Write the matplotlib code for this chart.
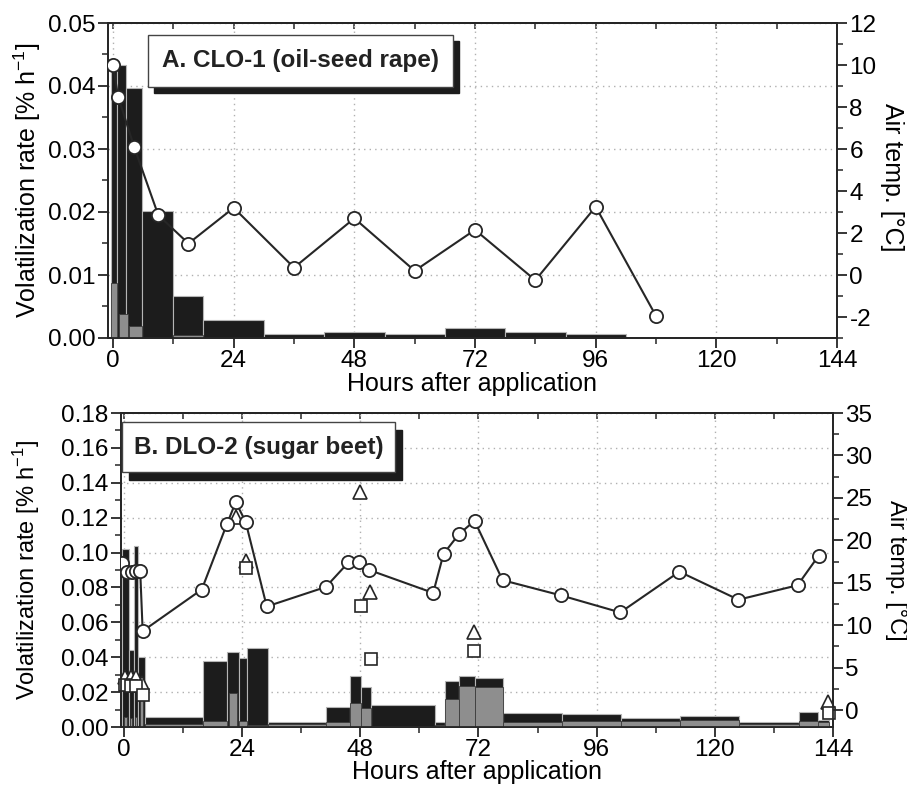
import numpy as np
import matplotlib
matplotlib.use("Agg")
import matplotlib.pyplot as plt
from matplotlib.patches import Rectangle
from matplotlib.ticker import MultipleLocator, FormatStrFormatter

plt.rcParams['font.family'] = ['Liberation Sans', 'DejaVu Sans']
plt.rcParams['axes.unicode_minus'] = False

# --- Panel A: CLO-1 (oil-seed rape) ---
a_dark_edges = [-0.5, 0.7, 2.6, 5.8, 11.9, 17.9, 30, 42, 54, 66, 78, 90, 102]
a_dark_rate = [0.0433, 0.0433, 0.0397, 0.0202, 0.0067, 0.0029, 0.0006,
               0.0009, 0.0006, 0.0016, 0.0010, 0.0006]
a_gray_left = [-0.4, 1.2, 3.2, 11.9]
a_gray_width = [1.1, 1.7, 2.5, 6.0]
a_gray_rate = [0.0087, 0.0038, 0.0019, 0.0004]
a_temp_hours = [0, 1, 4.2, 9, 15, 24, 36, 48, 60, 72, 84, 96, 108]
a_temp = [10.0, 8.5, 6.1, 2.85, 1.5, 3.2, 0.35, 2.7, 0.2, 2.15, -0.25, 3.25, -1.95]

# --- Panel B: DLO-2 (sugar beet) ---
b_dark_edges = [-0.3, 1.1, 2.0, 2.9, 4.2, 16.1, 21, 23.4, 25, 29.2, 41.1, 45.9,
                48.1, 50.2, 63.1, 65.1, 68.1, 71.2, 77, 89, 101, 113, 125, 137,
                141, 143.2]
b_dark_rate = [0.102, 0.044, 0.104, 0.040, 0.0059, 0.0378, 0.0428, 0.0394,
               0.0451, 0.003, 0.0113, 0.0292, 0.0227, 0.0126, 0.003, 0.0264,
               0.0292, 0.0283, 0.0078, 0.0074, 0.005, 0.0063, 0.0027, 0.0084,
               0.004]
b_gray_left = [0.1, 1.2, 2.2, 3.2, 4.2, 16.1, 21.3, 23.4, 25, 29.2, 41.1, 45.9,
               48.1, 50.2, 63.1, 65.1, 68.1, 71.2, 77, 89, 101, 113, 125, 137, 141]
b_gray_width = [0.5, 0.5, 0.5, 0.6, 11.9, 4.9, 1.7, 1.6, 4.2, 11.9, 4.8, 2.2,
                2.1, 12.9, 2.0, 3.0, 3.1, 5.8, 12, 12, 12, 12, 12, 4, 2.2]
b_gray_rate = [0.006, 0.005, 0.006, 0.019, 0.002, 0.0034, 0.0197, 0.0036, 0.001,
               0.0015, 0.003, 0.0139, 0.0107, 0.0005, 0.001, 0.016, 0.0235,
               0.0227, 0.0027, 0.0036, 0.0036, 0.004, 0.0017, 0.0034, 0.003]
b_tri_hours = [0.3, 1.5, 2.5, 3.7, 22.7, 24.7, 48, 50, 71, 143]
b_tri_rate = [0.0288, 0.0288, 0.0288, 0.025, 0.1205, 0.095, 0.135, 0.0775,
              0.0546, 0.0145]
b_sq_hours = [0.3, 1.5, 2.5, 3.9, 24.8, 48.1, 50.2, 71, 143.2]
b_sq_rate = [0.024, 0.0235, 0.0235, 0.0183, 0.091, 0.0693, 0.0388, 0.0436, 0.0078]
b_temp_hours = [-0.3, 0.7, 1.6, 2.5, 3.3, 3.8, 15.8, 20.9, 22.7, 24.7, 29, 41,
                45.6, 47.8, 49.8, 62.8, 64.9, 68, 71.2, 76.9, 88.8, 100.8,
                112.8, 124.8, 136.8, 141.1]
b_temp = [17.3, 16.3, 16.3, 16.4, 16.4, 9.3, 14.2, 21.9, 24.5, 22.2, 12.2, 14.5,
          17.4, 17.4, 16.5, 13.8, 18.4, 20.7, 22.3, 15.3, 13.5, 11.5, 16.3,
          13.0, 14.7, 18.2]

DARK = '#1c1c1c'
GRAY = '#8e8e8e'
LINE = '#262626'
FS_TICK = 17.5
FS_LABEL = 18

W, H = 907, 789
fig = plt.figure(figsize=(W / 100, H / 100), dpi=100)


def px_axes(x0, y0, x1, y1):
    return fig.add_axes([x0 / W, 1 - y1 / H, (x1 - x0) / W, (y1 - y0) / H])


def style_axes(ax, ax2, ymajor, yminor, tmajor, tminor):
    for a in (ax, ax2):
        for s in a.spines.values():
            s.set_linewidth(1.3)
            s.set_color(LINE)
    ax.set_xticks(range(0, 145, 24))
    ax.xaxis.set_minor_locator(MultipleLocator(12))
    ax.yaxis.set_major_locator(MultipleLocator(ymajor))
    ax.yaxis.set_minor_locator(MultipleLocator(yminor))
    ax2.yaxis.set_major_locator(MultipleLocator(tmajor))
    ax2.yaxis.set_minor_locator(MultipleLocator(tminor))
    for a in (ax, ax2):
        a.tick_params(which='major', direction='out', length=7, width=1.3,
                      labelsize=FS_TICK, pad=2, color=LINE)
        a.tick_params(which='minor', direction='out', length=4, width=1.1,
                      color=LINE)
    top = ax.secondary_xaxis('top')
    top.set_xticks(range(0, 145, 12))
    top.tick_params(direction='in', length=4, width=1.1, labeltop=False,
                    color=LINE)
    top.spines['top'].set_linewidth(1.3)
    ax.grid(True, which='major', linestyle=(0, (1, 3)), color='#b0b0b0',
            linewidth=1.0)
    ax.set_axisbelow(True)


def title_box(ax, x0, y0, x1, y1, dx, dy, text):
    ax.add_patch(Rectangle((x0 + dx, y0 - dy), x1 - x0, y1 - y0,
                           transform=ax.transAxes, facecolor=DARK,
                           edgecolor=DARK, zorder=6, clip_on=False))
    ax.add_patch(Rectangle((x0, y0), x1 - x0, y1 - y0, transform=ax.transAxes,
                           facecolor='white', edgecolor='#444444', lw=1.0,
                           zorder=7, clip_on=False))
    ax.text((x0 + x1) / 2, (y0 + y1) / 2, text, transform=ax.transAxes,
            ha='center', va='center', fontsize=17.5, fontweight='bold',
            color='#222222', zorder=8)


# ---------- Panel A ----------
ax1 = px_axes(108, 23, 837, 338)
ax1.bar(a_dark_edges[:-1], a_dark_rate, width=np.diff(a_dark_edges),
        align='edge', color=DARK, edgecolor='#b5b5b5', linewidth=0.8, zorder=2)
ax1.bar(a_gray_left, a_gray_rate, width=a_gray_width, align='edge',
        color=GRAY, edgecolor='#3a3a3a', linewidth=0.6, zorder=3)
ax1.set_xlim(-1, 144)
ax1.set_ylim(0, 0.05)
ax1.yaxis.set_major_formatter(FormatStrFormatter('%.2f'))

ax1t = ax1.twinx()
ax1t.plot(a_temp_hours, a_temp, '-o', color=LINE, lw=1.5, ms=9.5,
          mfc='white', mec=LINE, mew=1.3, zorder=5)
ax1t.set_ylim(-3, 12)
style_axes(ax1, ax1t, 0.01, 0.005, 2, 1)

ax1.set_ylabel('Volatilization rate [% h$^{\\mathregular{-1}}$]', fontsize=FS_LABEL)
ax1.yaxis.set_label_coords(-0.089, 0.5)
ax1.set_xlabel('Hours after application', fontsize=FS_LABEL)
ax1.xaxis.set_label_coords(0.5, -0.108)
ax1t.set_ylabel('Air temp. [°C]', fontsize=FS_LABEL, rotation=270, va='bottom')
ax1t.yaxis.set_label_coords(1.059, 0.51)
title_box(ax1t, 0.055, 0.797, 0.473, 0.962, 0.0085, 0.02,
          'A. CLO-1 (oil-seed rape)')

# ---------- Panel B ----------
ax2 = px_axes(121, 413, 833, 727)
ax2.bar(b_dark_edges[:-1], b_dark_rate, width=np.diff(b_dark_edges),
        align='edge', color=DARK, edgecolor='#b5b5b5', linewidth=0.8, zorder=2)
ax2.bar(b_gray_left, b_gray_rate, width=b_gray_width, align='edge',
        color=GRAY, edgecolor='#3a3a3a', linewidth=0.6, zorder=3)
ax2.plot(b_tri_hours, b_tri_rate, '^', ms=10, mfc='white', mec=LINE, mew=1.2,
         zorder=4, clip_on=False)
ax2.plot(b_sq_hours, b_sq_rate, 's', ms=9, mfc='white', mec=LINE, mew=1.2,
         zorder=4, clip_on=False)
ax2.set_xlim(-0.6, 144)
ax2.set_ylim(0, 0.18)
ax2.yaxis.set_major_formatter(FormatStrFormatter('%.2f'))

ax2t = ax2.twinx()
ax2t.plot(b_temp_hours, b_temp, '-o', color=LINE, lw=1.5, ms=9.5,
          mfc='white', mec=LINE, mew=1.3, zorder=5)
ax2t.set_ylim(-2, 35)
style_axes(ax2, ax2t, 0.02, 0.01, 5, 2.5)

ax2.set_ylabel('Volatilization rate [% h$^{\\mathregular{-1}}$]', fontsize=17)
ax2.yaxis.set_label_coords(-0.111, 0.5)
ax2.set_xlabel('Hours after application', fontsize=FS_LABEL)
ax2.xaxis.set_label_coords(0.5, -0.106)
ax2t.set_ylabel('Air temp. [°C]', fontsize=17, rotation=270, va='bottom')
ax2t.yaxis.set_label_coords(1.073, 0.5)
title_box(ax2t, 0.0015, 0.812, 0.385, 0.971, 0.0098, 0.024,
          'B. DLO-2 (sugar beet)')

fig.savefig('out.png', dpi=100)
